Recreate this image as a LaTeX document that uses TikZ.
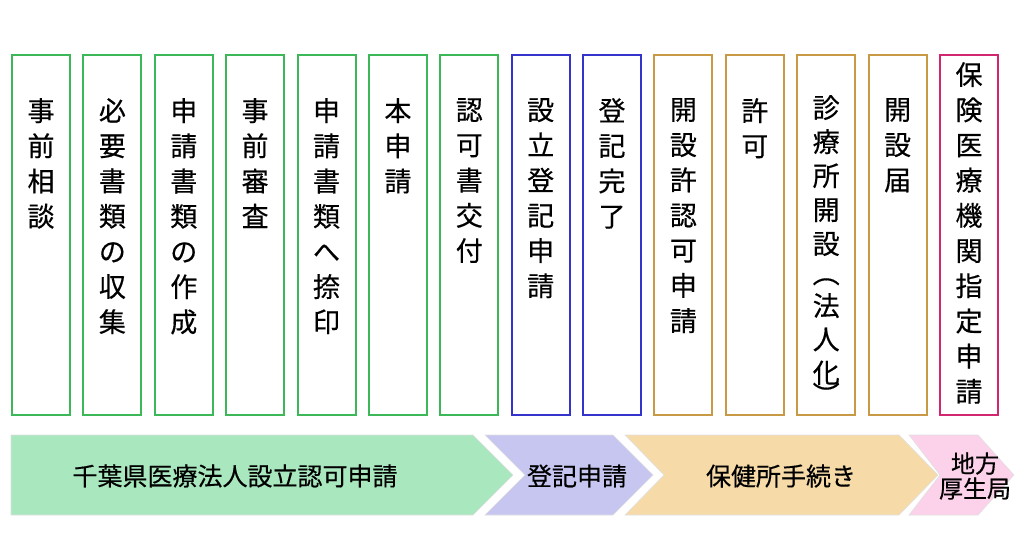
\documentclass[tikz,border=0pt]{standalone}
\usepackage{fontspec}
\setmainfont{Noto Sans CJK JP}[FakeBold=0.4]
\usetikzlibrary{positioning}
\definecolor{GreenClr}{HTML}{3CB858}
\definecolor{BlueClr}{HTML}{3434CC}
\definecolor{GoldClr}{HTML}{C99A45}
\definecolor{RoseClr}{HTML}{D2266E}
\definecolor{GreenFill}{HTML}{A9E7BE}
\definecolor{BlueFill}{HTML}{C6C6F1}
\definecolor{GoldFill}{HTML}{F6DBA9}
\definecolor{RoseFill}{HTML}{FCD2EA}

\tikzset{
  stepbox/.style={draw,line width=2pt,minimum width=58pt,minimum height=360pt,inner sep=0pt},
  vtext/.style={anchor=north,align=center,inner sep=0pt,font=\fontsize{27}{35.2}\selectfont},
  paren/.style={rotate=-90,inner sep=0pt,font=\fontsize{27}{27}\selectfont},
  band/.style={draw=black!12,line width=0.6pt},
  bandtext/.style={align=center,inner sep=0pt,font=\fontsize{25}{25}\selectfont}
}

\begin{document}
\begin{tikzpicture}[x=1pt,y=-1pt]
\useasboundingbox (0,0) rectangle (1024,533);

% steps
\node[stepbox,draw=GreenClr] (b1) at (41,235) {};
\node[stepbox,draw=GreenClr] (b2) at (112.4,235) {};
\node[stepbox,draw=GreenClr] (b3) at (183.8,235) {};
\node[stepbox,draw=GreenClr] (b4) at (255.1,235) {};
\node[stepbox,draw=GreenClr] (b5) at (326.5,235) {};
\node[stepbox,draw=GreenClr] (b6) at (397.9,235) {};
\node[stepbox,draw=GreenClr] (b7) at (469.3,235) {};
\node[stepbox,draw=BlueClr] (b8) at (540.7,235) {};
\node[stepbox,draw=BlueClr] (b9) at (612,235) {};
\node[stepbox,draw=GoldClr] (b10) at (683.4,235) {};
\node[stepbox,draw=GoldClr] (b11) at (754.8,235) {};
\node[stepbox,draw=GoldClr] (b12) at (826.2,235) {};
\node[stepbox,draw=GoldClr] (b13) at (897.6,235) {};
\node[stepbox,draw=RoseClr] (b14) at (969,235) {};

\node[vtext,below=44pt of b1.north] (t1) {事\\前\\相\\談};
\node[vtext,below=44pt of b2.north] (t2) {必\\要\\書\\類\\の\\収\\集};
\node[vtext,below=44pt of b3.north] (t3) {申\\請\\書\\類\\の\\作\\成};
\node[vtext,below=44pt of b4.north] (t4) {事\\前\\審\\査};
\node[vtext,below=44pt of b5.north] (t5) {申\\請\\書\\類\\へ\\捺\\印};
\node[vtext,below=44pt of b6.north] (t6) {本\\申\\請};
\node[vtext,below=44pt of b7.north] (t7) {認\\可\\書\\交\\付};
\node[vtext,below=44pt of b8.north] (t8) {設\\立\\登\\記\\申\\請};
\node[vtext,below=44pt of b9.north] (t9) {登\\記\\完\\了};
\node[vtext,below=44pt of b10.north] (t10) {開\\設\\許\\認\\可\\申\\請};
\node[vtext,below=44pt of b11.north] (t11) {許\\可};
\node[vtext,below=41pt of b12.north,font=\fontsize{27}{34}\selectfont] (t12) {診\\療\\所\\開\\設};
\node[paren] (p1) at (826.2,273) {（};
\node[vtext,below=239pt of b12.north,font=\fontsize{27}{33.5}\selectfont] (t12b) {法\\人\\化};
\node[paren] (p2) at (826.2,395) {）};
\node[vtext,below=44pt of b13.north] (t13) {開\\設\\届};
\node[vtext,below=8pt of b14.north] (t14) {保\\険\\医\\療\\機\\関\\指\\定\\申\\請};

% bands
\path[band,fill=GreenFill] (11,435) -- (473,435) -- (513,475) -- (473,515) -- (11,515) -- cycle;
\path[band,fill=BlueFill] (485,435) -- (613,435) -- (653,475) -- (613,515) -- (485,515) -- (525,475) -- cycle;
\path[band,fill=GoldFill] (625,435) -- (899,435) -- (938,475) -- (899,515) -- (625,515) -- (664,475) -- cycle;
\path[band,fill=RoseFill] (909,435) -- (978,435) -- (1014,475) -- (978,515) -- (909,515) -- (940,475) -- cycle;

\node[bandtext] (l1) at (235,476) {千葉県医療法人設立認可申請};
\node[bandtext] (l2) at (577,476) {登記申請};
\node[bandtext] (l3) at (781,476) {保健所手続き};
\node[bandtext,font=\fontsize{24}{25}\selectfont] (l4) at (975,476) {地方\\厚生局};

\end{tikzpicture}
\end{document}
